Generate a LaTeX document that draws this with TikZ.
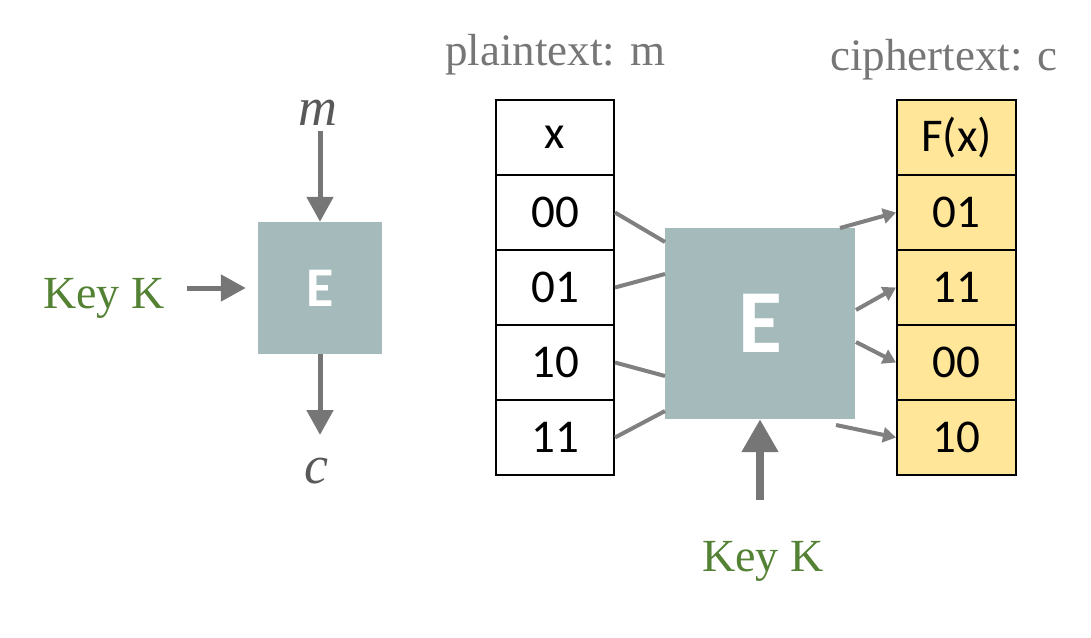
\documentclass[tikz,border=0pt]{standalone}
\usepackage{fontspec}
\newfontfamily\cellfont{Carlito}
\newfontfamily\labelfont{Liberation Serif}
\usetikzlibrary{arrows.meta}
\definecolor{ebox}{HTML}{A5BABA}
\definecolor{keygreen}{HTML}{548235}
\definecolor{arrowgray}{HTML}{767676}
\definecolor{linegray}{HTML}{808080}
\definecolor{labelgray}{HTML}{767676}
\definecolor{vargray}{HTML}{595959}
\definecolor{cipheryellow}{HTML}{FFE699}
\begin{document}
\begin{tikzpicture}[x=1pt,y=-1pt,
  cell/.style={draw=black, line width=2pt, minimum width=118pt, minimum height=75pt, inner sep=0pt,
    font=\cellfont\fontsize{47}{47}\selectfont},
  ccell/.style={cell, fill=cipheryellow},
  ebig/.style={fill=ebox, inner sep=0pt, text=white, font=\cellfont\bfseries\fontsize{90}{90}\selectfont},
  esmall/.style={fill=ebox, inner sep=0pt, text=white, font=\cellfont\bfseries\fontsize{56}{56}\selectfont},
  keylabel/.style={anchor=base, inner sep=0pt, text=keygreen, font=\labelfont\fontsize{46}{46}\selectfont},
  toplabel/.style={anchor=base, inner sep=0pt, text=labelgray, font=\labelfont\fontsize{45}{45}\selectfont},
  varlabel/.style={anchor=base, inner sep=0pt, text=vargray, font=\labelfont\fontsize{54}{54}\selectfont\itshape},
  bigarrow/.style={draw=arrowgray, line width=5pt, -{Triangle[width=26pt,length=25pt]}},
  keyarrow/.style={draw=arrowgray, line width=8pt, -{Triangle[width=35pt,length=33pt]}},
  smallarrow/.style={draw=linegray, line width=4pt, -{Triangle[width=15pt,length=13pt]}},
  plainline/.style={draw=linegray, line width=4pt}
]
\useasboundingbox (0,0) rectangle (1091,637);

% ---- left part ----
\node[esmall, minimum width=124pt, minimum height=132pt] (E1) at (320,288) {E};
\node[varlabel] (mlab) at (318,125) {m};
\node[varlabel] (clab) at (316,483) {c};
\node[keylabel] (keyL) at (104,308) {Key K};
\draw[bigarrow, shorten <=6pt] (mlab.south -| E1.north) -- (E1.north);
\draw[bigarrow] (E1.south) -- (E1.south |- 0,435);
\draw[bigarrow, shorten <=22pt, shorten >=12pt] (keyL.east |- E1.west) -- (E1.west);

% ---- labels ----
\node[toplabel] (ptlab) at (555,65) {plaintext: m};
\node[toplabel] (ctlab) at (944,70) {ciphertext: c};

% ---- plaintext table ----
\node[cell] (l0) at (555,137.5) {x};
\node[cell] (l1) at (555,212.5) {00};
\node[cell] (l2) at (555,287.5) {01};
\node[cell] (l3) at (555,362.5) {10};
\node[cell] (l4) at (555,437.5) {11};

% ---- ciphertext table ----
\node[ccell, minimum width=119pt] (r0) at (956.5,137.5) {F(x)};
\node[ccell, minimum width=119pt] (r1) at (956.5,212.5) {01};
\node[ccell, minimum width=119pt] (r2) at (956.5,287.5) {11};
\node[ccell, minimum width=119pt] (r3) at (956.5,362.5) {00};
\node[ccell, minimum width=119pt] (r4) at (956.5,437.5) {10};

% ---- big E ----
\node[ebig, minimum width=190pt, minimum height=191pt] (E2) at (760,323.5) {E};

\coordinate (w1) at (665,242);
\coordinate (w2) at (665,274);
\coordinate (w3) at (665,376);
\coordinate (w4) at (665,411);
\draw[plainline] (l1.east) -- (w1);
\draw[plainline] (l2.east) -- (w2);
\draw[plainline] (l3.east) -- (w3);
\draw[plainline] (l4.east) -- (w4);

\coordinate (o1) at (840,228);
\coordinate (o2) at (856,310);
\coordinate (o3) at (856,342);
\coordinate (o4) at (836,425);
\draw[smallarrow] (o1) -- (r1.west);
\draw[smallarrow] (o2) -- (r2.west);
\draw[smallarrow] (o3) -- (r3.west);
\draw[smallarrow] (o4) -- (r4.west);

% ---- key below ----
\node[keylabel] (keyB) at (763,571) {Key K};
\draw[keyarrow, shorten <=41pt] (keyB.north -| E2.south) -- (E2.south);
\end{tikzpicture}
\end{document}
